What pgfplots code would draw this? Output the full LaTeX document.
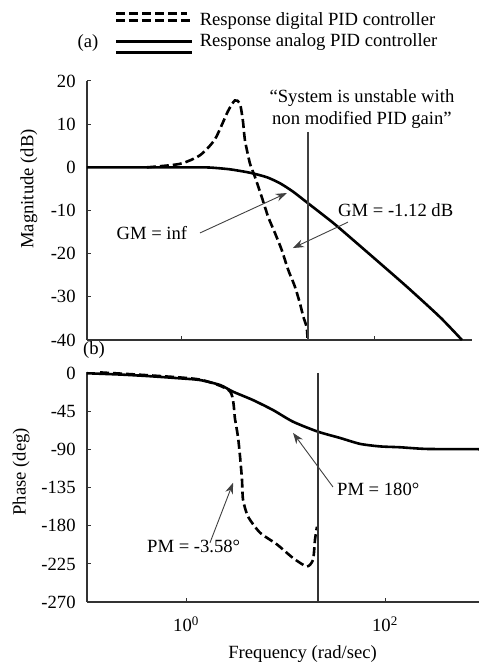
\documentclass[border=0pt]{standalone}
\usepackage{fontspec}
\setmainfont{Liberation Serif}
\usepackage{pgfplots}
\pgfplotsset{compat=1.18}
\usetikzlibrary{arrows.meta}
\tikzset{anno/.style={draw=black!75, line width=0.9bp, -{Stealth[length=11bp,width=8bp]}}}
\begin{document}
\fontsize{18.7}{22}\selectfont
\begin{tikzpicture}
\useasboundingbox (0,0) rectangle (479bp,663bp);
% ---------------- Magnitude ----------------
\begin{axis}[scale only axis,
  axis x line=bottom, axis y line=left,
  axis line style={-, line width=1.6bp, black!80},
  xmode=log, tick align=inside, major tick length=4bp, minor xtick={},
  tick style={line width=1bp, black!80},
  /pgf/number format/assume math mode=true,
  yticklabel style={xshift=-5bp},
  clip=false,
  at={(87bp,323bp)}, anchor=south west,
  width=385bp, height=259bp,
  xmin=0.104, xmax=1012, ymin=-40, ymax=20,
  ytick={-40,-30,...,20}, xtick={1,100}, xticklabels={},
  ylabel={Magnitude (dB)},
  every axis y label/.style={at={(axis description cs:-0.151,0.583)}, rotate=90, anchor=center},
  legend style={at={(axis description cs:0.0727,1.272)}, anchor=north west, draw=none, fill=none,
    inner sep=0pt, row sep=1bp, column sep=4bp, nodes={inner sep=2bp}},
  legend cell align=left,
]
\addplot[black, line width=2.6bp, dash pattern=on 9bp off 4bp, smooth, tension=0.4,
  legend image code/.code={\path (0bp,0bp) -- (76bp,0bp); \draw[black, line width=2.6bp, dash pattern=on 9bp off 4bp, overlay] (0bp,7bp) -- (71bp,7bp);}]
  coordinates {(0.434,0)(0.953,0.8)(1.54,2.8)(2.2,6.5)(3.0,13)(3.54,15.5)(3.99,14.8)(4.28,10.9)(4.5,6.3)(5.07,0.9)(5.71,-2.2)(6.70,-6.8)(7.84,-11.5)(9.2,-15.2)(10.8,-19.1)(12.6,-23.7)(14.8,-27.6)(16.7,-31.5)(18.1,-34.6)(19.6,-37)(20,-39.5)};
\addlegendentry{Response digital PID controller}
\addplot[black, line width=2.6bp, smooth, tension=0.4,
  legend image code/.code={\path (0bp,0bp) -- (76bp,0bp); \draw[black, line width=2.8bp, overlay] (0bp,-11bp) -- (76bp,-11bp);}]
  coordinates {(0.104,0)(1.21,0)(1.95,-0.05)(3.14,-0.46)(5.07,-1.25)(7.6,-2.3)(10.4,-3.7)(14.1,-5.6)(20.2,-8.3)(28.9,-11.0)(40.4,-13.6)(95.3,-20.8)(215,-27.7)(472,-34.7)(797,-40)};
\addlegendentry{Response analog PID controller}
\addplot[black!75, line width=1.6bp, forget plot] coordinates {(20.2,8.2)(20.2,-40)};
\node[inner sep=0pt] at (axis cs:0.489,-15.3) {GM = inf};
\draw[anno] (axis cs:1.54,-15.2) -- (axis cs:12.2,-5.95);
\node[anchor=west, inner sep=0pt] at (axis cs:41.4,-9.9) {GM = -1.12 dB};
\draw[anno] (axis cs:52.5,-12.7) -- (axis cs:14.1,-18.7);
\node[align=center, inner sep=0pt] at (axis cs:73.3,13.5) {“System is unstable with\\non modified PID gain”};
\node[anchor=west, inner sep=0pt] at (axis description cs:-0.0104,-0.039) {(b)};
\node[inner sep=0pt] at (axis description cs:0.0026,1.147) {(a)};
\end{axis}
% ---------------- Phase ----------------
\begin{axis}[scale only axis,
  axis x line=bottom, axis y line=left,
  axis line style={-, line width=1.6bp, black!80},
  xmode=log, tick align=inside, major tick length=4bp, minor xtick={},
  tick style={line width=1bp, black!80},
  /pgf/number format/assume math mode=true,
  yticklabel style={xshift=-5bp},
  clip=false,
  at={(87bp,61bp)}, anchor=south west,
  width=392bp, height=230bp,
  xmin=0.101, xmax=881, ymin=-270, ymax=2,
  ytick={-270,-225,...,0}, xtick={1,100},
  xticklabels={10\textsuperscript{0},10\textsuperscript{2}},
  xticklabel style={yshift=-8bp},
  xlabel={Frequency (rad/sec)}, ylabel={Phase (deg)},
  every axis y label/.style={at={(axis description cs:-0.168,0.566)}, rotate=90, anchor=center},
  every axis x label/.style={at={(axis description cs:0.55,-0.225)}, anchor=center},
]
\addplot[black, line width=2.6bp, dash pattern=on 9bp off 4bp, smooth, tension=0.4]
  coordinates {(0.137,1.5)(0.435,-2)(1.38,-7)(2.77,-21)(3.11,-54)(3.33,-75)(3.49,-98)(3.65,-125)(3.74,-149)(4.2,-169)(5.54,-188)(8.22,-202)(11.9,-218)(16.4,-228)(18.9,-220)(19.8,-196)(20.7,-181)};
\addplot[black, line width=2.6bp, smooth, tension=0.4]
  coordinates {(0.101,0.5)(0.217,-1)(0.435,-3)(0.87,-5.5)(1.38,-7.5)(2.2,-13.4)(2.97,-21.3)(4.71,-31.2)(7.49,-43)(11.9,-56.8)(21.2,-68.6)(35.3,-76)(56.1,-83)(89.1,-86)(141,-87)(264,-89)(881,-89.3)};
\addplot[black!80, line width=1.6bp] coordinates {(21.2,1)(21.2,-270)};
\node[anchor=west, inner sep=0pt] at (axis cs:0.405,-204.7) {PM = -3.58°};
\draw[anno] (axis cs:1.74,-200) -- (axis cs:2.97,-129);
\node[anchor=west, inner sep=0pt] at (axis cs:32.9,-137) {PM = 180°};
\draw[anno] (axis cs:30,-134) -- (axis cs:11.9,-70);
\end{axis}
\end{tikzpicture}
\end{document}
